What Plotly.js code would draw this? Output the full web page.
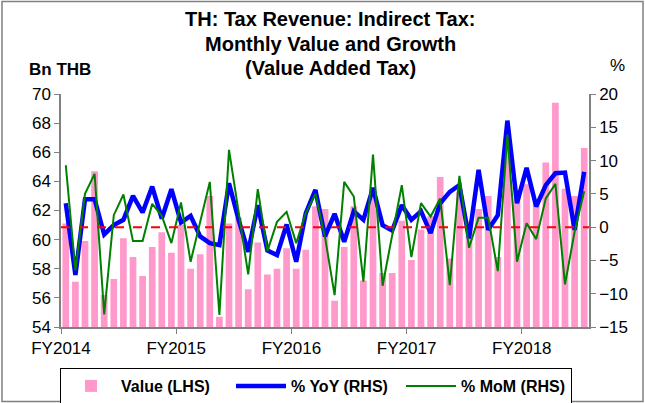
<!DOCTYPE html>
<html>
<head>
<meta charset="utf-8">
<script src="https://cdn.plot.ly/plotly-3.0.1.min.js"></script>
<style>html,body{margin:0;padding:0;background:#fff;}#chart{width:645px;height:403px;}</style>
</head>
<body>
<div id="chart"></div>
<script>
// Months Oct-2013 .. Apr-2018
const months = ["Oct-13","Nov-13","Dec-13","Jan-14","Feb-14","Mar-14","Apr-14","May-14","Jun-14","Jul-14","Aug-14","Sep-14",
"Oct-14","Nov-14","Dec-14","Jan-15","Feb-15","Mar-15","Apr-15","May-15","Jun-15","Jul-15","Aug-15","Sep-15",
"Oct-15","Nov-15","Dec-15","Jan-16","Feb-16","Mar-16","Apr-16","May-16","Jun-16","Jul-16","Aug-16","Sep-16",
"Oct-16","Nov-16","Dec-16","Jan-17","Feb-17","Mar-17","Apr-17","May-17","Jun-17","Jul-17","Aug-17","Sep-17",
"Oct-17","Nov-17","Dec-17","Jan-18","Feb-18","Mar-18","Apr-18"];

const valueBn = [61.1,57.1,59.9,64.7,56.2,57.3,60.1,58.8,57.5,59.5,60.5,59.1,
61.0,58.0,59.0,63.0,54.7,61.1,61.5,56.6,59.8,57.6,58.0,59.4,
58.0,59.3,62.3,62.1,55.8,59.5,62.3,57.2,63.4,57.7,57.7,61.3,
58.6,60.7,61.6,64.3,58.7,63.3,61.3,62.1,63.0,58.8,66.9,63.4,
63.8,62.6,65.3,69.4,63.5,63.0,66.3];

const yoyPct = [3.6,-7.2,4.2,4.2,-1.1,0.3,1.1,4.7,2.2,6.1,1.3,5.7,
0.7,1.7,-1.4,-2.4,-2.7,6.6,1.1,-3.7,3.3,-3.5,-4.2,0.4,
-5.2,2.1,5.6,-1.4,2.0,-2.2,2.4,1.1,5.9,0.3,-0.5,3.3,
1.1,2.4,-0.9,3.6,5.3,6.3,-1.7,8.6,-0.4,1.8,16.0,3.6,
8.9,3.1,6.3,8.1,8.2,-0.4,8.3];

const momPct = [9.3,-6.5,5.0,8.0,-13.1,1.8,4.9,-2.1,-2.1,3.5,1.7,-2.4,
3.7,-5.2,0.8,6.8,-13.2,11.6,2.3,-7.1,5.7,-3.6,0.8,2.3,
-2.4,2.1,5.0,-1.5,-10.2,6.8,4.6,-8.2,10.9,-8.8,-1.2,6.3,
-4.5,3.6,1.6,4.3,-8.7,7.7,-3.1,1.4,1.4,-6.6,13.9,-5.2,
0.6,-1.8,4.3,6.5,-8.6,-0.7,5.4];

const fyLabels = ["FY2014","FY2015","FY2016","FY2017","FY2018"];
const fyStartMonth = ["Oct-13","Oct-14","Oct-15","Oct-16","Oct-17"];
const titleLines = ["TH: Tax Revenue: Indirect Tax:","Monthly Value and Growth","(Value Added Tax)"];

const idx = months.map((m, i) => i);
const fyTickVals = fyStartMonth.map(m => months.indexOf(m) - 0.5);

const FONT = "Arial, 'Liberation Sans', sans-serif";

// plot area in pixels: x 61..589, y 94.3..326.7
const PX = x => (x - 61) / 528;
const PY = y => (326.7 - y) / 232.4;

const traces = [
  {type:"bar", x: idx, y: valueBn, name:"Value (LHS)", yaxis:"y",
   marker:{color:"#FF99CC"}, hovertext: months},
  {type:"scatter", mode:"lines", x: idx, y: yoyPct, name:"% YoY (RHS)", yaxis:"y2",
   line:{color:"#0000FF", width:4.5}},
  {type:"scatter", mode:"lines", x: idx, y: momPct, name:"% MoM (RHS)", yaxis:"y2",
   line:{color:"#008000", width:2}}
];

const titleY = [19, 44, 68];
const annotations = titleLines.map((t, i) => ({
  text:"<b>" + t + "</b>", xref:"paper", yref:"paper", x:PX(330), xanchor:"center",
  y:PY(titleY[i]), yanchor:"middle", showarrow:false, font:{family:FONT, size:20, color:"#000"}
}));
annotations.push(
  {text:"<b>Bn THB</b>", xref:"paper", yref:"paper", x:PX(27), xanchor:"left", y:PY(70), yanchor:"middle",
   showarrow:false, font:{family:FONT, size:17, color:"#000"}},
  {text:"%", xref:"paper", yref:"paper", x:PX(617), xanchor:"center", y:PY(66), yanchor:"middle",
   showarrow:false, font:{family:FONT, size:17, color:"#000"}}
);

const layout = {
  width:645, height:403,
  margin:{l:61, r:56, t:94, b:76, pad:0},
  paper_bgcolor:"#fff", plot_bgcolor:"#fff",
  font:{family:FONT, color:"#000", size:17},
  bargap:0.3,
  showlegend:true,
  xaxis:{range:[-0.5, months.length-0.5], tickmode:"array", tickvals: fyTickVals, ticktext: fyLabels,
    ticks:"outside", ticklen:5, tickcolor:"#808080", showline:true, linecolor:"#808080", linewidth:1.5,
    showgrid:false, zeroline:false, tickfont:{size:17}, automargin:false},
  yaxis:{range:[54,70], dtick:2, tick0:54, ticks:"outside", ticklen:5, tickcolor:"#808080",
    showline:true, linecolor:"#808080", linewidth:1.5, showgrid:false, zeroline:false, tickfont:{size:17}, automargin:false},
  yaxis2:{range:[-15,20], dtick:5, tick0:-15, overlaying:"y", side:"right", ticks:"outside", ticklen:5,
    tickcolor:"#808080", showline:true, linecolor:"#808080", linewidth:1.5, showgrid:false, zeroline:false,
    tickfont:{size:17}, automargin:false},
  legend:{orientation:"h", xref:"container", x:316/645, xanchor:"center", yref:"container", y:(403-368)/403, yanchor:"top",
    bgcolor:"#fff", bordercolor:"#000", borderwidth:1, font:{family:FONT, size:16, color:"#000", weight:"bold"},
    entrywidth:105, itemwidth:50, traceorder:"normal"},
  shapes:[
    {type:"line", xref:"paper", x0:0, x1:1, yref:"y2", y0:0, y1:0, layer:"above",
     line:{color:"#FF0000", width:2, dash:"dash"}},
    {type:"rect", xref:"paper", yref:"paper", x0:PX(2), x1:PX(643), y0:PY(401), y1:PY(2),
     line:{color:"#808080", width:1.5}, fillcolor:"rgba(0,0,0,0)", layer:"below"}
  ],
  annotations: annotations
};

Plotly.newPlot("chart", traces, layout, {displayModeBar:false, responsive:false});
</script>
</body>
</html>
